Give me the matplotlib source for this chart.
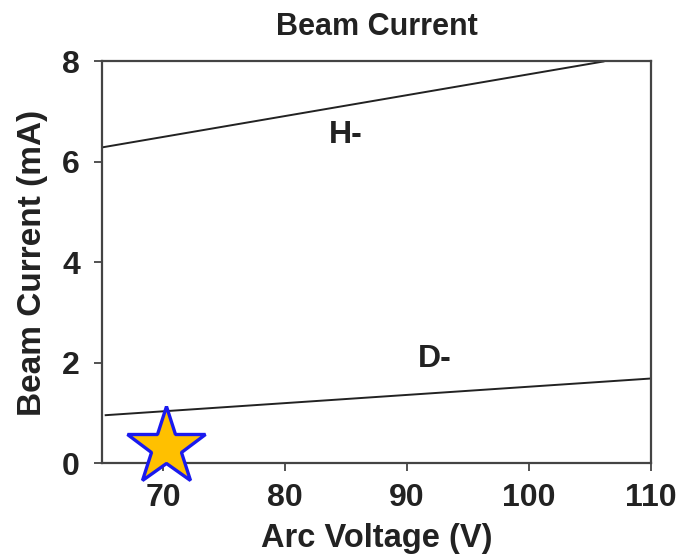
import matplotlib
matplotlib.use("Agg")
import matplotlib.pyplot as plt

plt.rcParams['font.family'] = ['Liberation Sans', 'DejaVu Sans']

h_x = [65.0, 106.1]
h_y = [6.29, 8.0]
d_x = [65.3, 110.0]
d_y = [0.96, 1.69]
star_x = [70.27]
star_y = [0.32]
x_ticks = [70, 80, 90, 100, 110]
y_ticks = [0, 2, 4, 6, 8]

FS = 23
fig = plt.figure(figsize=(6.81, 5.59), dpi=100)
ax = fig.add_axes([0.1498, 0.171, 0.8062, 0.719])
ax.plot(h_x, h_y, color='#222222', lw=1.4)
ax.plot(d_x, d_y, color='#222222', lw=1.4)
ax.plot(star_x, star_y, marker='*', ms=59, mfc='#FFC000', mec='#1A1AEE', mew=2.4,
        linestyle='none', clip_on=False, zorder=5)
ax.text(84.96, 6.53, 'H-', fontsize=FS, fontweight='bold', ha='center', va='center', color='#222222')
ax.text(92.3, 2.08, 'D-', fontsize=FS, fontweight='bold', ha='center', va='center', color='#222222')

ax.set_xlim(65, 110)
ax.set_ylim(0, 8)
ax.set_xticks(x_ticks)
ax.set_yticks(y_ticks)
for s in ax.spines.values():
    s.set_color('#444444')
    s.set_linewidth(1.6)
ax.tick_params(direction='out', length=6, width=1.3, color='#444444', labelsize=FS)
ax.tick_params(axis='x', pad=8)
ax.tick_params(axis='y', pad=10)
for lbl in ax.get_xticklabels() + ax.get_yticklabels():
    lbl.set_fontweight('bold')
    lbl.set_color('#222222')
ax.set_xlabel('Arc Voltage (V)', fontsize=23.5, fontweight='bold', color='#222222', labelpad=7)
ax.set_ylabel('Beam Current (mA)', fontsize=24, fontweight='bold', color='#222222', labelpad=10)
ax.set_title('Beam Current', fontsize=22, fontweight='bold', color='#222222', pad=19)
fig.savefig('out.png', dpi=100)
